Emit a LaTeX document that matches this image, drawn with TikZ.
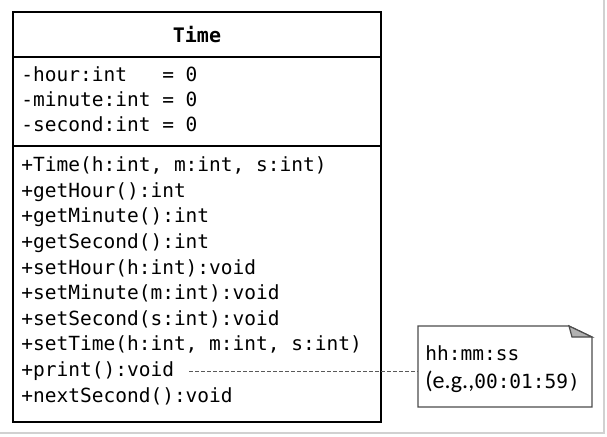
\documentclass[tikz,border=0pt]{standalone}
\usepackage{fontspec}
\setmonofont{DejaVu Sans Mono}
\newfontfamily\notefont{Carlito}
\usetikzlibrary{positioning}
\tikzset{%
	compart/.style  = {draw, rectangle, line width=0.6pt, outer sep=0pt, inner sep=0pt, minimum width=184pt},
	member/.style   = {anchor=base west, inner sep=0pt, font=\ttfamily\fontsize{9.75}{12}\selectfont\frenchspacing},
	notebox/.style  = {rectangle, outer sep=0pt, minimum width=87pt, minimum height=40.5pt},
	noteline/.style = {draw=black!70, line width=0.6pt},
	link/.style     = {draw=black!65, line width=0.5pt, dash pattern=on 2pt off 1pt},
	frame/.style    = {draw=black!18, line width=0.7pt},
}

\begin{document}
\begin{tikzpicture}[x=1pt,y=-1pt]
		\useasboundingbox (0,0) rectangle (303.5,218);
		\draw[frame] (302,0) -- (302,216.5) -- (0,216.5);
		
		\node[compart, minimum height=22.5pt, anchor=north west, font=\ttfamily\bfseries] (title) at (6.5,6) {Time};
		\node[compart, minimum height=44.5pt, below=0pt of title] (attrs) {};
		\node[compart, minimum height=138pt, below=0pt of attrs] (ops) {};
		
		\foreach \txt [count=\i] in {-hour:int\ \ \ = 0, -minute:int\ = 0, -second:int\ = 0}
			\node[member] (a\i) at ([xshift=4pt, yshift={-12.35pt-12.5pt*(\i-1)}]attrs.north west) {\txt};
		\foreach \txt [count=\i] in {{+Time(h:int,\ m:int,\ s:int)}, +getHour():int, +getMinute():int, +getSecond():int, +setHour(h:int):void, +setMinute(m:int):void, +setSecond(s:int):void, {+setTime(h:int,\ m:int,\ s:int)}, +print():void, +nextSecond():void}
			\node[member] (m\i) at ([xshift=4pt, yshift={-12.85pt-12.8pt*(\i-1)}]ops.north west) {\txt};
		
		\node[notebox, anchor=north west] (note) at (209,163) {};
		\draw[noteline, fill=white] (note.north west) -- ([xshift=-11.5pt]note.north east) -- ([yshift=-5.5pt]note.north east) -- (note.south east) -- (note.south west) -- cycle;
		\draw[noteline, fill=black!30] ([xshift=-11.5pt]note.north east) -- ([xshift=-10pt,yshift=-5.5pt]note.north east) -- ([yshift=-5.5pt]note.north east) -- cycle;
		\node[member] (fmt) at ([xshift=3.5pt, yshift=-17pt]note.north west) {hh:mm:ss};
		\node[member] (ex) at ([xshift=3.5pt, yshift=-31pt]note.north west) {{\notefont\fontsize{12}{14}\selectfont(e.g.,}00:01:59)};
		
		\draw[link] ([xshift=7.5pt]m9.east) -- (m9.east -| note.west);
		\end{tikzpicture}
\end{document}
